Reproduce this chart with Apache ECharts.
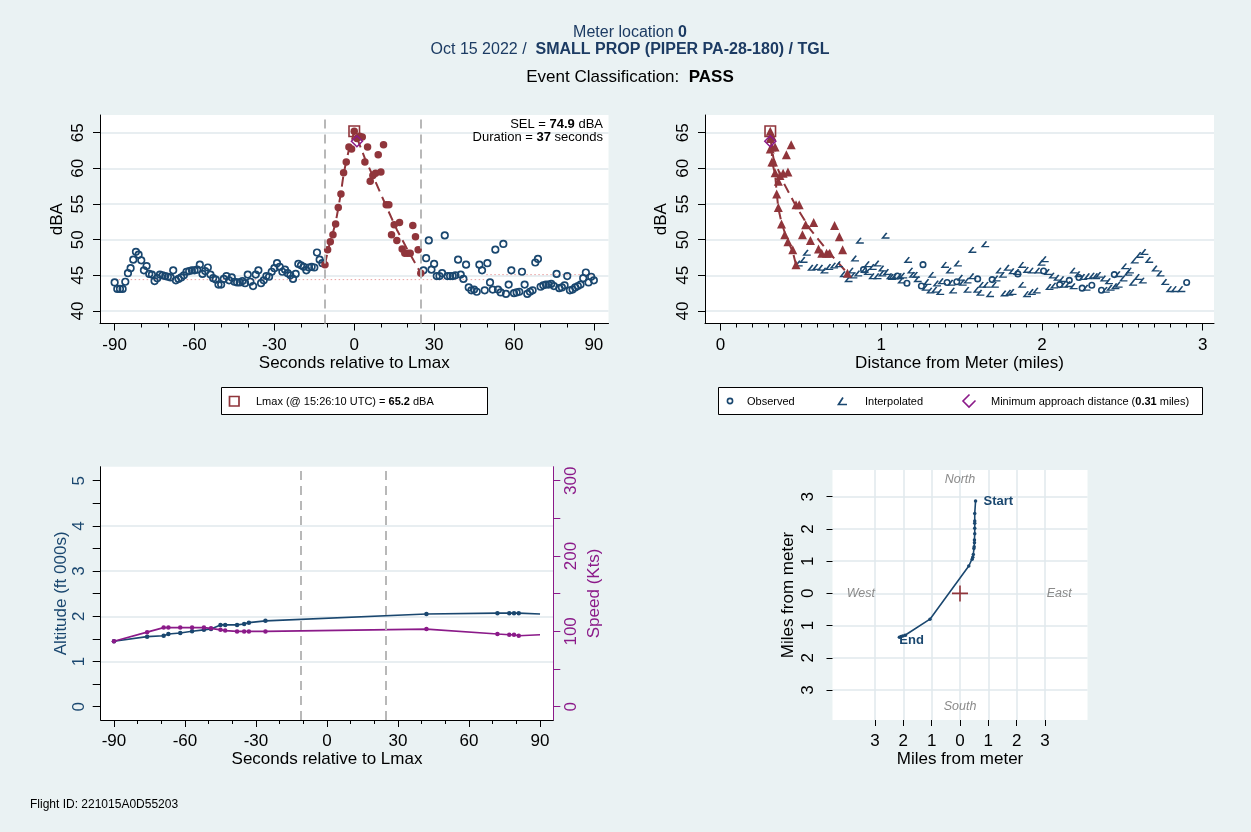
<!DOCTYPE html>
<html>
<head>
<meta charset="utf-8">
<script src="https://cdn.jsdelivr.net/npm/echarts@6.0.0/dist/echarts.min.js"></script>
<style>
html,body{margin:0;padding:0;background:#eaf2f3;}
#chart{width:1251px;height:832px;}
</style>
</head>
<body>
<div id="chart"></div>
<script>
// ================= DATA =================
const firstSecond = -90;           // second of first dba / dist value
const eventStart = -11;            // event window (red)
const eventEnd = 25;
// dBA per second, -90 .. 90
const dba = [
  44.0,43.1,43.1,43.1,44.1,45.3,46.0,47.2,48.3,47.9,   // -90..-81
  47.1,45.7,46.3,45.2,45.1,44.2,44.6,45.1,45.0,44.9,   // -80..-71
  44.8,44.7,45.7,44.3,44.5,44.7,45.0,45.5,45.6,45.7,   // -70..-61
  45.7,45.8,46.5,45.2,45.6,46.1,45.1,44.6,44.4,43.7,   // -60..-51
  43.7,44.5,44.9,44.3,44.7,44.1,44.0,44.0,44.2,43.9,   // -50..-41
  45.1,44.1,43.5,45.1,45.7,43.9,44.3,44.9,44.8,45.5,   // -40..-31
  46.0,46.7,46.2,45.5,45.8,45.3,45.0,44.5,45.2,46.6,   // -30..-21
  46.4,46.2,45.7,46.1,46.2,46.1,48.2,47.2,46.7,        // -20..-12
  46.5,48.6,49.7,50.7,52.2,54.5,56.4,59.4,60.9,63.0,62.7, // -11..-1
  65.2,                                                // 0
  64.2,64.5,64.4,60.9,63.0,58.2,59.0,59.3,61.9,59.5,   // 1..10
  63.3,54.9,54.9,50.7,52.1,49.9,52.4,48.7,48.1,48.1,   // 11..20
  48.1,52.0,50.4,48.6,45.3,45.7,47.4,49.9,45.8,46.6,   // 21..30
  44.9,44.9,45.3,50.6,44.9,44.9,44.9,45.0,47.2,45.1,   // 31..40
  44.5,46.5,43.3,42.9,43.0,42.7,46.5,45.7,42.9,46.7,   // 41..50
  44.0,43.0,48.6,43.0,42.6,49.4,42.4,43.7,45.7,42.5,   // 51..60
  42.6,42.7,45.5,43.7,42.4,42.7,42.9,46.8,47.3,43.4,   // 61..70
  43.6,43.7,43.7,43.8,43.5,45.2,43.2,43.3,43.6,44.9,   // 71..80
  42.9,43.0,43.3,43.5,43.7,44.6,45.4,44.0,44.8,44.3    // 81..90
];
// distance from meter (miles) per second, -90 .. 90
const dist = [
  2.90,2.87,2.83,2.80,2.77,2.74,2.71,2.67,2.64,2.61,
  2.58,2.55,2.52,2.48,2.45,2.42,2.39,2.36,2.32,2.29,
  2.26,2.23,2.20,2.17,2.13,2.10,2.07,2.04,2.01,1.98,
  1.94,1.91,1.88,1.85,1.82,1.79,1.76,1.72,1.69,1.66,
  1.63,1.60,1.57,1.54,1.50,1.47,1.44,1.41,1.38,1.35,
  1.32,1.29,1.25,1.22,1.19,1.16,1.13,1.10,1.07,1.04,
  1.01,0.98,0.95,0.92,0.89,0.86,0.83,0.80,0.77,0.74,
  0.71,0.68,0.65,0.63,0.60,0.57,0.54,0.52,0.49,0.47,
  0.45,0.42,0.40,0.38,0.36,0.35,0.34,0.32,0.32,0.31,
  0.31,
  0.31,0.32,0.32,0.33,0.34,0.36,0.37,0.39,0.41,0.42,
  0.44,0.47,0.49,0.51,0.53,0.56,0.58,0.61,0.63,0.66,
  0.68,0.71,0.74,0.76,0.79,0.82,0.84,0.87,0.90,0.92,
  0.95,0.98,1.01,1.03,1.06,1.09,1.12,1.14,1.17,1.20,
  1.23,1.26,1.28,1.31,1.34,1.37,1.40,1.43,1.45,1.48,
  1.51,1.54,1.57,1.60,1.62,1.65,1.68,1.71,1.74,1.77,
  1.80,1.82,1.85,1.88,1.91,1.94,1.97,2.00,2.02,2.05,
  2.08,2.11,2.14,2.17,2.20,2.23,2.25,2.28,2.31,2.34,
  2.37,2.40,2.43,2.46,2.48,2.51,2.54,2.57,2.60,2.63
];
// fitted event curve (dashed)
const fitSec = [-11,-10,-9,-8,-7,-6,-5,-4,-3,-2,-1,0,1,4,8,12,16,20,25];
const fitDb  = [46.5,48.3,49.8,51.0,52.4,54.4,56.6,59.2,61.0,62.6,63.8,65.2,64.3,61.4,58.1,54.7,51.4,48.6,45.3];
// background level (dotted)
const bgFrom = [-90, 49.6];
const bgTo   = [49.6, 90];
const bgDb   = [44.4, 45.1];
// Lmax and minimum approach
const lmaxSec = 0, lmaxDb = 65.2, lmaxDist = 0.31;
const minAppSec = 1, minAppDb = 63.8, minAppDist = 0.31;
// radar track (last entry = end of line, no marker)
const trackSec = [-90,-76,-69,-67,-62,-57,-52,-49,-45,-43,-38,-35,-33,-26,42,72,77,79,81,90];
const altitude = [1.45,1.55,1.57,1.61,1.63,1.67,1.70,1.72,1.81,1.81,1.81,1.83,1.86,1.90,2.05,2.07,2.07,2.07,2.07,2.05];
const speed    = [87,99,105,105,105,105,105,104,102,101,100,100,100,100,103,96.5,95.6,95.6,94.2,95.6];
// ground track (miles east / north of meter)
const mapX = [0.55,0.52,0.52,0.52,0.52,0.52,0.51,0.51,0.50,0.49,0.47,0.45,0.43,0.31,-1.06,-1.94,-2.02,-2.08,-2.14];
const mapY = [2.87,2.48,2.25,2.18,2.02,1.85,1.66,1.57,1.45,1.39,1.21,1.12,1.06,0.85,-0.80,-1.30,-1.32,-1.34,-1.36];
const endNames = ['Start','End'];
const compassText = ['North','South','West','East'];
const compassX = [0, 0, -3.5, 3.5];
const compassY = [3.52, -3.5, 0, 0];
// ticks
const secTicks = [-90,-60,-30,0,30,60,90];
const secMinorTicks = [-80,-70,-50,-40,-20,-10,10,20,40,50,70,80];
const dbTicks = [40,45,50,55,60,65];
const distTicks = [0,1,2,3];
const distMinorTicks = [0.1,0.2,0.3,0.4,0.5,0.6,0.7,0.8,0.9,1.1,1.2,1.3,1.4,1.5,1.6,1.7,1.8,1.9,2.1,2.2,2.3,2.4,2.5,2.6,2.7,2.8,2.9];
const altTicks = [0,0.5,1,1.5,2,2.5,3,3.5,4,4.5,5];
const altLabels = [0,1,2,3,4,5];
const altGridVals = [1,2,3,4];
const speedTicks = [0,50,100,150,200,250,300];
const speedLabels = [0,100,200,300];
const mapTicks = [-3,-2,-1,0,1,2,3];

// ================= STYLE =================
const FONT = '"Liberation Sans", Arial, Helvetica, sans-serif';
const NAVY = '#1a476f', MAROON = '#90353b', PURPLE = '#8b1a89', TITLEC = '#1c3b63';
const GRIDC = '#e0e9ec', DASHC = '#b8b8b8', PINK = '#e8a0a0';
const SQUARE = 'path://M0,0 L10,0 L10,10 L0,10 Z';
const DIAMOND = 'path://M5,0 L10,5 L5,10 L0,5 Z';
const INTERP = 'path://M6,0 L0,7 L10,7';
const PLUS = 'path://M0,8 L16,8 M8,0 L8,16';

// ================= DERIVED =================
const secs = dba.map((_, i) => firstSecond + i);
const inEvent = s => s >= eventStart && s <= eventEnd;
const observed = new Set(trackSec.slice(0, -1));
const tlBlue = [], tlRed = [], trObs = [], trInt = [], trTri = [];
secs.forEach((s, i) => {
  if (inEvent(s)) { tlRed.push([s, dba[i]]); trTri.push([dist[i], dba[i]]); }
  else {
    tlBlue.push([s, dba[i]]);
    if (observed.has(s)) trObs.push([dist[i], dba[i]]); else trInt.push([dist[i], dba[i]]);
  }
});
const fitTL = fitSec.map((s, i) => [s, fitDb[i]]);
const fitTR = fitSec.map((s, i) => [dist[s - firstSecond], fitDb[i]]);
const altData = trackSec.map((s, i) => [s, altitude[i]]);
const spdData = trackSec.map((s, i) => [s, speed[i]]);
const mapData = mapX.map((x, i) => [x, mapY[i]]);
const endData = [
  {name: endNames[0], value: mapData[0], label: {distance: 8, offset: [0, 0]}},
  {name: endNames[1], value: mapData[mapData.length - 1], label: {distance: 1, offset: [-1, 3]}}
];
const compassData = compassText.map((t, i) => ({name: t, value: [compassX[i], compassY[i]]}));
const lastIdx = trackSec.length - 1;

function ax(o) {
  const base = {
    type: 'value',
    axisLine: {show: true, onZero: false, lineStyle: {color: '#000', width: 1}},
    axisTick: {show: true, length: 7, lineStyle: {color: '#000', width: 1}},
    axisLabel: {show: true, fontSize: 17, color: '#000', fontFamily: FONT},
    splitLine: {show: false},
    nameLocation: 'middle',
    nameTextStyle: {fontSize: 17, color: '#000', fontFamily: FONT}
  };
  for (const k in o) {
    if (o[k] && typeof o[k] === 'object' && !Array.isArray(o[k]) && base[k] && typeof base[k] === 'object')
      base[k] = Object.assign({}, base[k], o[k]);
    else base[k] = o[k];
  }
  return base;
}
const gridLine = {show: true, lineStyle: {color: GRIDC, width: 1.5}};
const vDash = {
  silent: true, symbol: ['none', 'none'], label: {show: false},
  lineStyle: {color: DASHC, width: 2, type: [9, 6]},
  data: [{xAxis: eventStart}, {xAxis: eventEnd}]
};

const option = {
  animation: false,
  backgroundColor: '#eaf2f3',
  textStyle: {fontFamily: FONT},
  grid: [
    {left: 100, top: 115, width: 508.5, height: 208.5, show: true, backgroundColor: '#fff', borderWidth: 0},
    {left: 705, top: 115, width: 509, height: 208.5, show: true, backgroundColor: '#fff', borderWidth: 0},
    {left: 100.7, top: 466.7, width: 452.6, height: 253.3, show: true, backgroundColor: '#fff', borderWidth: 0},
    {left: 832.5, top: 470, width: 255, height: 250, show: true, backgroundColor: '#fff', borderWidth: 0}
  ],
  xAxis: [
    ax({gridIndex: 0, min: -95.5, max: 95.5, axisTick: {customValues: secTicks, length: 7},
        axisLabel: {customValues: secTicks, margin: 13}, name: 'Seconds relative to Lmax', nameGap: 30}),
    ax({gridIndex: 0, min: -95.5, max: 95.5, position: 'bottom', axisLine: {show: false},
        axisTick: {customValues: secMinorTicks, length: 4}, axisLabel: {show: false}}),
    ax({gridIndex: 1, min: -0.096, max: 3.07, axisTick: {customValues: distTicks, length: 7},
        axisLabel: {customValues: distTicks, margin: 13}, name: 'Distance from Meter (miles)', nameGap: 30}),
    ax({gridIndex: 1, min: -0.096, max: 3.07, position: 'bottom', axisLine: {show: false},
        axisTick: {customValues: distMinorTicks, length: 4}, axisLabel: {show: false}}),
    ax({gridIndex: 2, min: -95.6, max: 95.6, axisTick: {customValues: secTicks, length: 7},
        axisLabel: {customValues: secTicks, margin: 13}, name: 'Seconds relative to Lmax', nameGap: 30}),
    ax({gridIndex: 2, min: -95.6, max: 95.6, position: 'bottom', axisLine: {show: false},
        axisTick: {customValues: secMinorTicks, length: 4}, axisLabel: {show: false}}),
    ax({gridIndex: 3, min: -4.5, max: 4.5, axisLine: {show: false},
        axisTick: {customValues: mapTicks, length: 6},
        axisLabel: {customValues: mapTicks, margin: 13, formatter: v => String(Math.abs(v))},
        splitLine: gridLine, name: 'Miles from meter', nameGap: 30})
  ],
  yAxis: [
    ax({gridIndex: 0, min: 38.247, max: 67.48, axisTick: {customValues: dbTicks, length: 7},
        axisLabel: {customValues: dbTicks, rotate: 90, margin: 13}, splitLine: gridLine, name: 'dBA', nameGap: 34}),
    ax({gridIndex: 1, min: 38.247, max: 67.48, axisTick: {customValues: dbTicks, length: 7},
        axisLabel: {customValues: dbTicks, rotate: 90, margin: 13}, splitLine: gridLine, name: 'dBA', nameGap: 35}),
    ax({gridIndex: 2, position: 'left', min: -0.294, max: 5.31, axisTick: {customValues: altTicks, length: 8},
        axisLabel: {customValues: altLabels, rotate: 90, margin: 13, color: NAVY},
        name: 'Altitude (ft 000s)', nameGap: 31, nameTextStyle: {fontSize: 17, color: NAVY, fontFamily: FONT}}),
    {type: 'value', gridIndex: 2, position: 'left', min: -0.294, max: 5.31,
     axisLine: {show: false}, axisTick: {show: false, customValues: altGridVals}, axisLabel: {show: false},
     splitLine: gridLine},
    ax({gridIndex: 2, position: 'right', min: -17.64, max: 318.6,
        axisLine: {lineStyle: {color: PURPLE, width: 1}},
        axisTick: {customValues: speedTicks, length: 7, lineStyle: {color: PURPLE, width: 1}},
        axisLabel: {customValues: speedLabels, rotate: 90, margin: 10, color: PURPLE},
        name: 'Speed (Kts)', nameGap: 33, nameTextStyle: {fontSize: 17, color: PURPLE, fontFamily: FONT}}),
    ax({gridIndex: 3, min: -3.93, max: 3.83, axisLine: {show: false},
        axisTick: {customValues: mapTicks, length: 6},
        axisLabel: {customValues: mapTicks, rotate: 90, margin: 16, formatter: v => String(Math.abs(v))},
        splitLine: gridLine, name: 'Miles from meter', nameGap: 36})
  ],
  series: [
    // ---------- top-left: dBA vs time ----------
    ...bgDb.map((d, i) => ({
      type: 'line', xAxisIndex: 0, yAxisIndex: 0, symbol: 'none', silent: true, z: 1,
      data: [[bgFrom[i], d], [bgTo[i], d]],
      lineStyle: {color: PINK, width: 1, type: [1.5, 2.5]}
    })),
    {type: 'line', xAxisIndex: 0, yAxisIndex: 0, data: fitTL, symbol: 'none', silent: true, z: 2,
     lineStyle: {color: MAROON, width: 2, type: [10, 6]}, markLine: vDash},
    {type: 'scatter', xAxisIndex: 0, yAxisIndex: 0, data: tlBlue, symbol: 'circle', symbolSize: 6.5, z: 3,
     itemStyle: {color: 'none', borderColor: NAVY, borderWidth: 1.7, opacity: 1}},
    {type: 'scatter', xAxisIndex: 0, yAxisIndex: 0, data: tlRed, symbol: 'circle', symbolSize: 7.5, z: 3,
     itemStyle: {color: MAROON, opacity: 1}},
    {type: 'scatter', xAxisIndex: 0, yAxisIndex: 0, data: [[lmaxSec, lmaxDb]], symbol: SQUARE, symbolSize: 10.5, z: 4,
     itemStyle: {color: 'none', borderColor: MAROON, borderWidth: 1.6, opacity: 1}},
    {type: 'scatter', xAxisIndex: 0, yAxisIndex: 0, data: [[minAppSec, minAppDb]], symbol: DIAMOND, symbolSize: 11, z: 4,
     itemStyle: {color: 'none', borderColor: PURPLE, borderWidth: 1.5, opacity: 1}},
    // ---------- top-right: dBA vs distance ----------
    {type: 'line', xAxisIndex: 2, yAxisIndex: 1, data: fitTR, symbol: 'none', silent: true, z: 2,
     lineStyle: {color: MAROON, width: 2, type: [10, 6]}},
    {type: 'scatter', xAxisIndex: 2, yAxisIndex: 1, data: trInt, symbol: INTERP, symbolSize: [7, 5.2], z: 3,
     itemStyle: {color: 'none', borderColor: NAVY, borderWidth: 1.5, opacity: 1}},
    {type: 'scatter', xAxisIndex: 2, yAxisIndex: 1, data: trObs, symbol: 'circle', symbolSize: 5.5, z: 3,
     itemStyle: {color: 'none', borderColor: NAVY, borderWidth: 1.6, opacity: 1}},
    {type: 'scatter', xAxisIndex: 2, yAxisIndex: 1, data: trTri, symbol: 'triangle', symbolSize: 9, z: 3,
     itemStyle: {color: MAROON, opacity: 1}},
    {type: 'scatter', xAxisIndex: 2, yAxisIndex: 1, data: [[lmaxDist, lmaxDb]], symbol: SQUARE, symbolSize: 10.5, z: 4,
     itemStyle: {color: 'none', borderColor: MAROON, borderWidth: 1.6, opacity: 1}},
    {type: 'scatter', xAxisIndex: 2, yAxisIndex: 1, data: [[minAppDist, minAppDb]], symbol: DIAMOND, symbolSize: 11, z: 4,
     itemStyle: {color: 'none', borderColor: PURPLE, borderWidth: 1.5, opacity: 1}},
    // ---------- bottom-left: altitude & speed ----------
    {type: 'line', xAxisIndex: 4, yAxisIndex: 2, data: altData, symbol: 'circle',
     symbolSize: (v, p) => p.dataIndex === lastIdx ? 0 : 4.5, z: 3,
     lineStyle: {color: NAVY, width: 1.6}, itemStyle: {color: NAVY}, markLine: vDash},
    {type: 'line', xAxisIndex: 4, yAxisIndex: 4, data: spdData, symbol: 'circle',
     symbolSize: (v, p) => p.dataIndex === lastIdx ? 0 : 4.5, z: 3,
     lineStyle: {color: PURPLE, width: 1.6}, itemStyle: {color: PURPLE}},
    // ---------- bottom-right: ground track ----------
    {type: 'line', xAxisIndex: 6, yAxisIndex: 5, data: mapData, symbol: 'circle', symbolSize: 3.5, z: 3,
     lineStyle: {color: NAVY, width: 1.6}, itemStyle: {color: NAVY}},
    {type: 'scatter', xAxisIndex: 6, yAxisIndex: 5, data: [[0, 0]], symbol: PLUS, symbolSize: 16, z: 4,
     itemStyle: {color: 'none', borderColor: MAROON, borderWidth: 1.6, opacity: 1}},
    {type: 'scatter', xAxisIndex: 6, yAxisIndex: 5, data: endData, symbolSize: 0, z: 5,
     itemStyle: {opacity: 1},
     label: {show: true, formatter: '{b}', fontSize: 13, fontWeight: 'bold', color: NAVY, fontFamily: FONT,
             position: 'right', distance: 8, opacity: 1}},
    {type: 'scatter', xAxisIndex: 6, yAxisIndex: 5, data: compassData, symbolSize: 0, z: 5,
     itemStyle: {opacity: 1},
     label: {show: true, formatter: '{b}', fontSize: 12.5, fontStyle: 'italic', color: '#8a8a8a', fontFamily: FONT,
             position: 'inside', opacity: 1}}
  ],
  graphic: [
    {type: 'text', x: 630, y: 33, style: {text: '{a|Meter location }{b|0}', align: 'center', verticalAlign: 'middle',
      rich: {a: {fontSize: 16, fontFamily: FONT, fill: TITLEC}, b: {fontSize: 16, fontFamily: FONT, fontWeight: 'bold', fill: TITLEC}}}},
    {type: 'text', x: 630, y: 50, style: {text: '{a|Oct 15 2022 /  }{b|SMALL PROP (PIPER PA-28-180) / TGL}', align: 'center', verticalAlign: 'middle',
      rich: {a: {fontSize: 16, fontFamily: FONT, fill: TITLEC}, b: {fontSize: 16, fontFamily: FONT, fontWeight: 'bold', fill: TITLEC}}}},
    {type: 'text', x: 630, y: 77, style: {text: '{a|Event Classification:  }{b|PASS}', align: 'center', verticalAlign: 'middle',
      rich: {a: {fontSize: 17, fontFamily: FONT, fill: '#000'}, b: {fontSize: 17, fontFamily: FONT, fontWeight: 'bold', fill: '#000'}}}},
    {type: 'text', x: 603, y: 124, z: 10, style: {text: '{a|SEL = }{b|74.9}{a| dBA}', align: 'right', verticalAlign: 'middle',
      rich: {a: {fontSize: 13, fontFamily: FONT, fill: '#000'}, b: {fontSize: 13, fontFamily: FONT, fontWeight: 'bold', fill: '#000'}}}},
    {type: 'text', x: 603, y: 137, z: 10, style: {text: '{a|Duration = }{b|37}{a| seconds}', align: 'right', verticalAlign: 'middle',
      rich: {a: {fontSize: 13, fontFamily: FONT, fill: '#000'}, b: {fontSize: 13, fontFamily: FONT, fontWeight: 'bold', fill: '#000'}}}},
    // legend (top-left)
    {type: 'rect', shape: {x: 221.5, y: 387.5, width: 266, height: 27}, style: {fill: '#fff', stroke: '#000', lineWidth: 1}},
    {type: 'rect', shape: {x: 229.5, y: 396.5, width: 9.5, height: 9.5}, style: {fill: 'none', stroke: MAROON, lineWidth: 1.7}},
    {type: 'text', x: 256, y: 401.5, style: {text: '{a|Lmax (@ 15:26:10 UTC) = }{b|65.2}{a| dBA}', align: 'left', verticalAlign: 'middle',
      rich: {a: {fontSize: 11, fontFamily: FONT, fill: '#000'}, b: {fontSize: 11, fontFamily: FONT, fontWeight: 'bold', fill: '#000'}}}},
    // legend (top-right)
    {type: 'rect', shape: {x: 718.5, y: 387.5, width: 484, height: 27}, style: {fill: '#fff', stroke: '#000', lineWidth: 1}},
    {type: 'circle', shape: {cx: 730, cy: 401, r: 2.6}, style: {fill: 'none', stroke: NAVY, lineWidth: 1.6}},
    {type: 'text', x: 747, y: 401.5, style: {text: 'Observed', fontSize: 11, fontFamily: FONT, fill: '#000', align: 'left', verticalAlign: 'middle'}},
    {type: 'polyline', shape: {points: [[843, 397.5], [838.5, 404.5], [847, 404.5]]}, style: {fill: 'none', stroke: NAVY, lineWidth: 1.7}},
    {type: 'text', x: 865, y: 401.5, style: {text: 'Interpolated', fontSize: 11, fontFamily: FONT, fill: '#000', align: 'left', verticalAlign: 'middle'}},
    {type: 'polyline', shape: {points: [[969.5, 394.5], [963, 401], [969, 407], [975.5, 400.5]]}, style: {fill: 'none', stroke: PURPLE, lineWidth: 1.6}},
    {type: 'text', x: 991, y: 401.5, style: {text: '{a|Minimum approach distance (}{b|0.31}{a| miles)}', align: 'left', verticalAlign: 'middle',
      rich: {a: {fontSize: 11, fontFamily: FONT, fill: '#000'}, b: {fontSize: 11, fontFamily: FONT, fontWeight: 'bold', fill: '#000'}}}},
    // footer
    {type: 'text', x: 30, y: 805, style: {text: 'Flight ID: 221015A0D55203', fontSize: 12, fontFamily: FONT, fill: '#000', align: 'left', verticalAlign: 'middle'}}
  ]
};

const chart = echarts.init(document.getElementById('chart'), null, {renderer: 'canvas', width: 1251, height: 832});
chart.setOption(option);
</script>
</body>
</html>
